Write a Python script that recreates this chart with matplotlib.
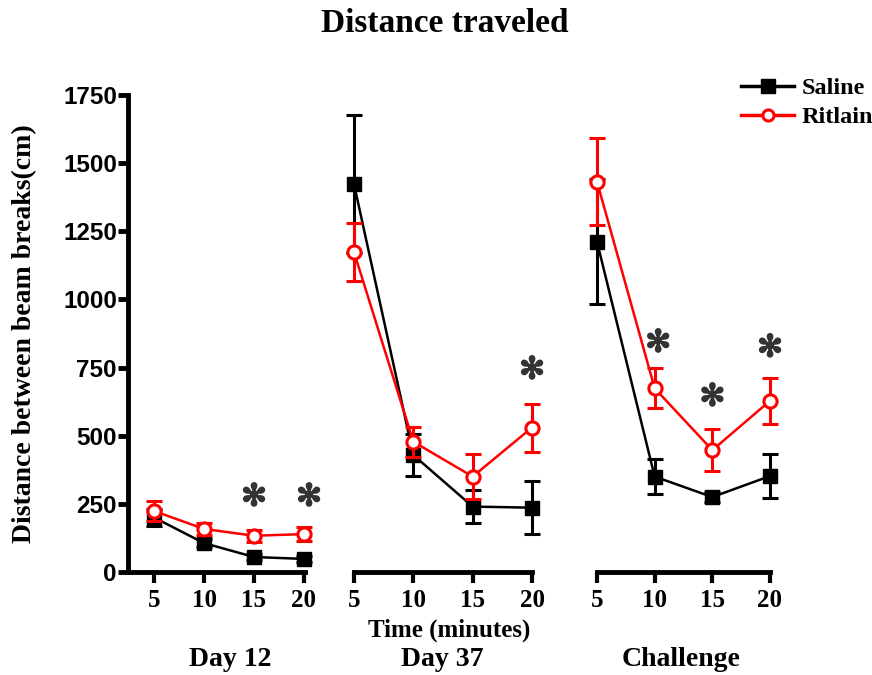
import matplotlib
matplotlib.use("Agg")
import matplotlib.pyplot as plt
import matplotlib.patheffects as pe

# time points (minutes) shared by every session
minutes = [5, 10, 15, 20]
sessions = ["Day 12", "Day 37", "Challenge"]

# mean distance (cm) and error
saline_mean = {
    "Day 12": [200, 106, 55, 48],
    "Day 37": [1423, 429, 240, 236],
    "Challenge": [1212, 350, 275, 352],
}
saline_err = {
    "Day 12": [30, 14, 10, 10],
    "Day 37": [253, 77, 60, 97],
    "Challenge": [230, 63, 20, 80],
}
ritlain_mean = {
    "Day 12": [224, 158, 133, 139],
    "Day 37": [1174, 478, 350, 530],
    "Challenge": [1432, 674, 447, 628],
}
ritlain_err = {
    "Day 12": [38, 22, 22, 25],
    "Day 37": [105, 55, 83, 88],
    "Challenge": [160, 73, 76, 84],
}

# significance stars (x, y) per session
stars = {
    "Day 12": [(15, 275), (20.5, 275)],
    "Day 37": [(20, 741)],
    "Challenge": [(10.3, 840), (15, 642), (20, 822)],
}

SERIF = "Liberation Serif"
SANS = "Liberation Sans"
W, H = 872, 675

fig = plt.figure(figsize=(W / 100, H / 100), dpi=100)

# panel boxes in pixels: left, right, top, bottom
boxes = {
    "Day 12": (128, 305, 95, 572),
    "Day 37": (354, 532, 95, 572),
    "Challenge": (597, 770, 95, 572),
}
xlims = {"Day 12": (2.4, 20.1), "Day 37": (5, 20), "Challenge": (5, 20)}
# centre of the session name below each panel (pixels)
name_x = {"Day 12": 230, "Day 37": 442, "Challenge": 681}

axes = {}
for name in sessions:
    l, r, t, b = boxes[name]
    ax = fig.add_axes([l / W, 1 - b / H, (r - l) / W, (b - t) / H])
    axes[name] = ax
    ax.set_xlim(*xlims[name])
    ax.set_ylim(0, 1750)
    for s in ["top", "right"]:
        ax.spines[s].set_visible(False)
    ax.spines["bottom"].set_linewidth(3.5)
    ax.spines["left"].set_linewidth(3.5)
    ax.set_xticks(minutes)
    ax.set_xticklabels([str(m) for m in minutes], fontfamily=SERIF,
                       fontweight="bold", fontsize=18)
    ax.tick_params(axis="x", length=8, width=3, direction="out", pad=4)
    if name == "Day 12":
        ax.set_yticks([0, 250, 500, 750, 1000, 1250, 1500, 1750])
        ax.set_yticklabels(["0", "250", "500", "750", "1000", "1250", "1500", "1750"],
                           fontfamily=SANS, fontweight="bold", fontsize=17.5)
        ax.tick_params(axis="y", length=7, width=3.5, direction="out", pad=1)
    else:
        ax.spines["left"].set_visible(False)
        ax.set_yticks([])
        # end caps on the floating x axis
        ax.set_xticks([5, 20], minor=True)
        ax.tick_params(axis="x", which="minor", length=5, width=3, direction="in")

    ax.errorbar(minutes, saline_mean[name], yerr=saline_err[name], color="black",
                marker="s", markersize=9.5, linewidth=1.8, elinewidth=2.2,
                capsize=6, capthick=2.2, clip_on=False, zorder=3)
    ax.errorbar(minutes, ritlain_mean[name], yerr=ritlain_err[name], color="#ff0000",
                marker="o", markersize=9.5, markerfacecolor="white",
                markeredgewidth=2.2, linewidth=1.8, elinewidth=2.2,
                capsize=6, capthick=2.2, clip_on=False, zorder=4)
    for sx, sy in stars[name]:
        ax.text(sx, sy, "\u273b", ha="center", va="center", fontsize=22,
                color="#333333", family="DejaVu Sans", zorder=5, clip_on=False,
                path_effects=[pe.withStroke(linewidth=1.2, foreground="#333333")])

    fig.text(name_x[name] / W, 1 - 660 / H, name, ha="center", va="center",
             fontfamily=SERIF, fontweight="bold", fontsize=20)

fig.text(445 / W, 1 - 23 / H, "Distance traveled", ha="center", va="center",
         fontfamily=SERIF, fontweight="bold", fontsize=24)
fig.text(449 / W, 1 - 630 / H, "Time (minutes)", ha="center", va="center",
         fontfamily=SERIF, fontweight="bold", fontsize=18)
fig.text(25 / W, 1 - 334 / H, "Distance between beam breaks(cm)", ha="center",
         va="center", rotation=90, fontfamily=SERIF, fontweight="bold", fontsize=20)

# legend
h1, = axes["Challenge"].plot([], [], color="black", marker="s", markersize=10,
                             linewidth=2.5)
h2, = axes["Challenge"].plot([], [], color="#ff0000", marker="o", markersize=8,
                             markerfacecolor="white", markeredgewidth=2.2,
                             linewidth=2.5)
fig.legend([h1, h2], ["Saline", "Ritlain"], loc="upper left",
           bbox_to_anchor=(741 / W, 1 - 77 / H), frameon=False,
           prop={"family": SERIF, "weight": "bold", "size": 17.5},
           handlelength=2.2, handletextpad=0.3, labelspacing=0.3,
           borderpad=0, borderaxespad=0)

fig.savefig("out.png", dpi=100)
